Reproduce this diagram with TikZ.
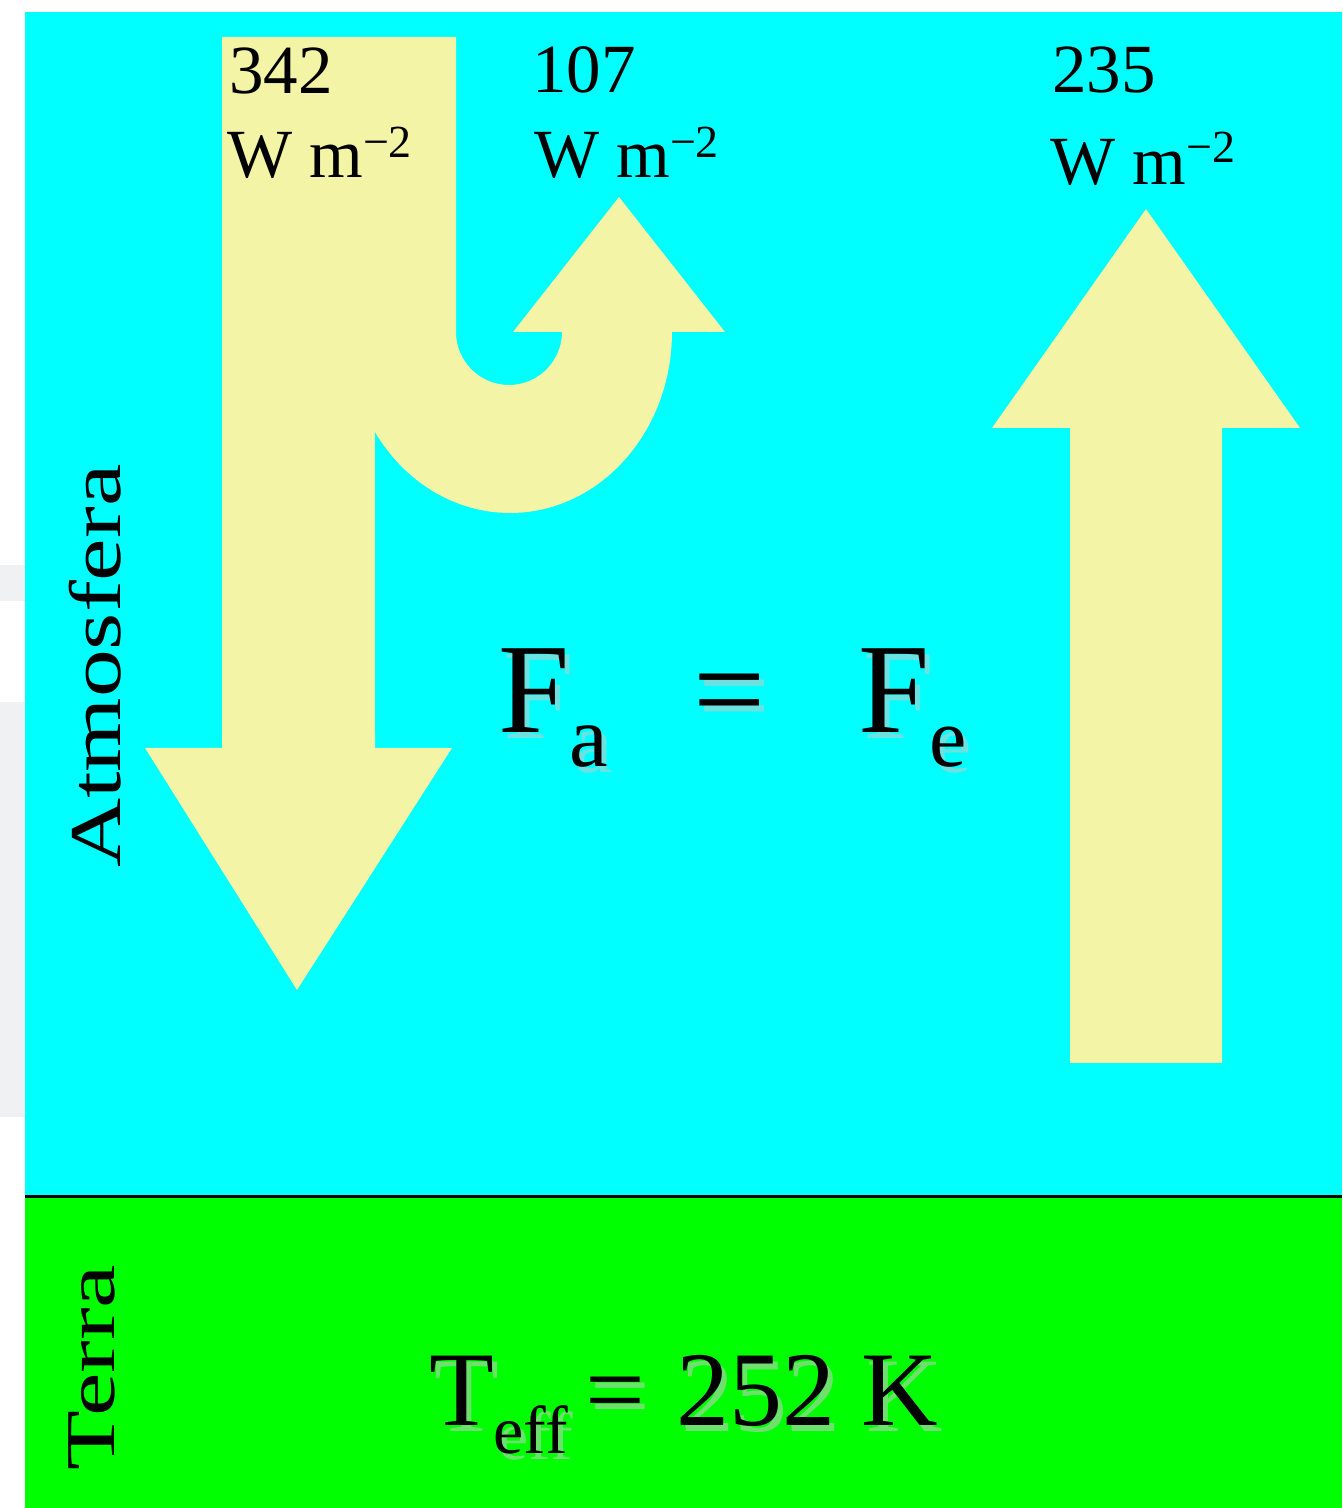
\documentclass[tikz,border=0pt]{standalone}
\usepackage{fontspec}
\setmainfont{Liberation Serif}
\usepackage{graphicx}
\definecolor{sky}{RGB}{0,255,255}
\definecolor{ground}{RGB}{0,255,0}
\definecolor{beam}{RGB}{244,244,166}
\definecolor{edgegray}{RGB}{240,241,243}
\definecolor{shade}{RGB}{200,200,200}
\newcommand\wmunit[1]{W m\raisebox{#1}{\fontsize{46}{46}\selectfont −2}}
\newcommand\subA[2]{\raisebox{#1}{\fontsize{#2}{#2}\selectfont a}}
\begin{document}
\begin{tikzpicture}[x=1pt,y=1pt,
  txt/.style={inner sep=0pt, outer sep=0pt, anchor=base west},
  lbl/.style={txt, font=\fontsize{69}{80}\selectfont},
  bigtxt/.style={txt, font=\fontsize{128}{140}\selectfont},
  teff/.style={txt, font=\fontsize{106}{120}\selectfont},
  shadowtxt/.style={text=shade, opacity=0.55},
  sidetxt/.style={inner sep=0pt, outer sep=0pt, anchor=base west, rotate=90}]
\useasboundingbox (0,0) rectangle (1342,1508);
\fill[white] (0,0) rectangle (1342,1508);
\fill[edgegray] (0,907) rectangle (25,943);
\fill[edgegray] (0,391) rectangle (25,806);
% layers
\fill[sky] (25,311) rectangle (1342,1496);
\fill[ground] (25,0) rectangle (1342,311);
\draw[line width=3pt] (25,311.5) -- (1342,311.5);
% incoming / reflected beam
\fill[beam] (222,1471) -- (456,1471) -- (456,1176)
  arc[start angle=180, end angle=360, radius=53]
  -- (513,1176) -- (619,1311) -- (725,1176) -- (672,1176)
  arc[start angle=0, end angle=-146.5, x radius=162, y radius=181]
  -- (375,760) -- (452,760) -- (297,518) -- (145,760) -- (222,760) -- cycle;
% outgoing beam
\fill[beam] (1070,445) -- (1070,1080) -- (992,1080) -- (1146,1299)
  -- (1300,1080) -- (1222,1080) -- (1222,445) -- cycle;
% flux labels
\node[lbl] (v342) at (229,1414) {342};
\node[lbl] (u342) at (227,1330) {\wmunit{20pt}};
\node[lbl] (v107) at (532,1415) {107};
\node[lbl] (u107) at (534,1330) {\wmunit{20pt}};
\node[lbl] (v235) at (1052,1415) {235};
\node[lbl] (u235) at (1050,1323) {\wmunit{22pt}};
% balance
\node[bigtxt, shadowtxt] (fash) at (503,769) {F\subA{-34pt}{87}};
\node[bigtxt] (fa) at (498,775) {F\subA{-34pt}{87}};
\node[bigtxt, shadowtxt] (eqsh) at (698,769) {=};
\node[bigtxt] (eq) at (693,775) {=};
\node[bigtxt, shadowtxt] (fesh) at (863,769) {F\raisebox{-34pt}{\fontsize{84}{84}\selectfont e}};
\node[bigtxt] (fe) at (858,775) {F\raisebox{-34pt}{\fontsize{84}{84}\selectfont e}};
% temperature
\node[teff, shadowtxt] (tsh) at (434,76) {T\raisebox{-28pt}{\fontsize{68}{68}\selectfont eff}};
\node[teff] (t) at (429,82) {T\raisebox{-28pt}{\fontsize{68}{68}\selectfont eff}};
\node[teff, shadowtxt] (teqsh) at (590,76) {=};
\node[teff] (teq) at (585,82) {=};
\node[teff, shadowtxt] (valsh) at (681,76) {252 K};
\node[teff] (val) at (676,82) {252 K};
% side labels
\node[sidetxt, font=\fontsize{73}{80}\selectfont] (atm) at (120,640) {\scalebox{1.31}[1]{Atmosfera}};
\node[sidetxt, font=\fontsize{70}{80}\selectfont] (terra) at (114,38) {\scalebox{1.4}[1]{Terra}};
\end{tikzpicture}
\end{document}
